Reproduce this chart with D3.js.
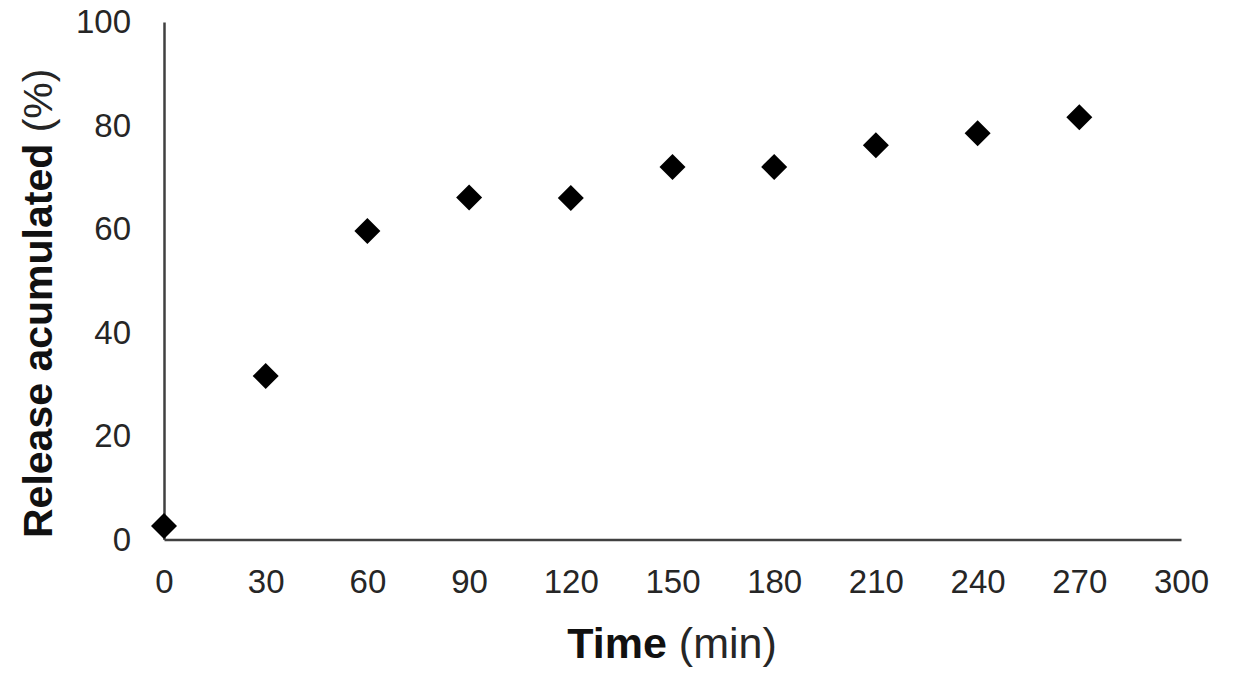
<!DOCTYPE html>
<html>
<head>
<meta charset="utf-8">
<script src="https://cdn.jsdelivr.net/npm/d3@7"></script>
<style>
  html, body { margin: 0; padding: 0; background: #fff; }
  svg { display: block; }
  text { font-family: "Liberation Sans", Arial, sans-serif; }
</style>
</head>
<body>
<svg id="chart" width="1249" height="694"></svg>
<script>
// Data
const timeMin = [0, 30, 60, 90, 120, 150, 180, 210, 240, 270];
const releasePct = [2.6, 31.6, 59.6, 66.1, 66.0, 72.0, 72.0, 76.2, 78.5, 81.6];
const xTicks = [0, 30, 60, 90, 120, 150, 180, 210, 240, 270, 300];
const yTicks = [0, 20, 40, 60, 80, 100];

const svg = d3.select("#chart");
const x = d3.scaleLinear().domain([0, 300]).range([164, 1181]);
const y = d3.scaleLinear().domain([0, 100]).range([539.5, 22]);

const axisColor = "#404040";
const labelColor = "#262626";

// X axis
const xAxis = svg.append("g")
  .attr("transform", `translate(0,${y(0)})`)
  .call(d3.axisBottom(x).tickValues(xTicks).tickSize(0).tickPadding(30).tickFormat(d3.format("d")));
xAxis.select(".domain").attr("stroke", axisColor).attr("stroke-width", 2.5);
xAxis.selectAll("text")
  .attr("fill", labelColor)
  .style("font-size", "33px")
  .style("font-family", "'Liberation Sans', Arial, sans-serif");

// Y axis
const yAxis = svg.append("g")
  .attr("transform", `translate(${x(0)},0)`)
  .call(d3.axisLeft(y).tickValues(yTicks).tickSize(0).tickPadding(33).tickFormat(d3.format("d")));
yAxis.select(".domain").attr("stroke", axisColor).attr("stroke-width", 2.5);
yAxis.selectAll("text")
  .attr("fill", labelColor)
  .style("font-size", "33px")
  .style("font-family", "'Liberation Sans', Arial, sans-serif");

// Points (diamonds)
const diamond = d3.symbol().type(d3.symbolSquare).size(338);
svg.append("g").selectAll("path")
  .data(timeMin.map((t, i) => ({ t, v: releasePct[i] })))
  .join("path")
  .attr("d", diamond)
  .attr("transform", d => `translate(${x(d.t)},${y(d.v)}) rotate(45)`)
  .attr("fill", "#000");

// X title
const xt = svg.append("text")
  .attr("x", 672)
  .attr("y", 658)
  .attr("text-anchor", "middle")
  .style("font-size", "43px")
  .attr("fill", "#111");
xt.append("tspan").attr("font-weight", "bold").text("Time");
xt.append("tspan").attr("fill", labelColor).text(" (min)");

// Y title
const yt = svg.append("text")
  .attr("transform", "translate(52,538) rotate(-90)")
  .attr("text-anchor", "start")
  .style("font-size", "41px")
  .attr("fill", "#111");
yt.append("tspan").attr("font-weight", "bold").text("Release acumulated");
yt.append("tspan").attr("fill", labelColor).text(" (%)");
</script>
</body>
</html>
